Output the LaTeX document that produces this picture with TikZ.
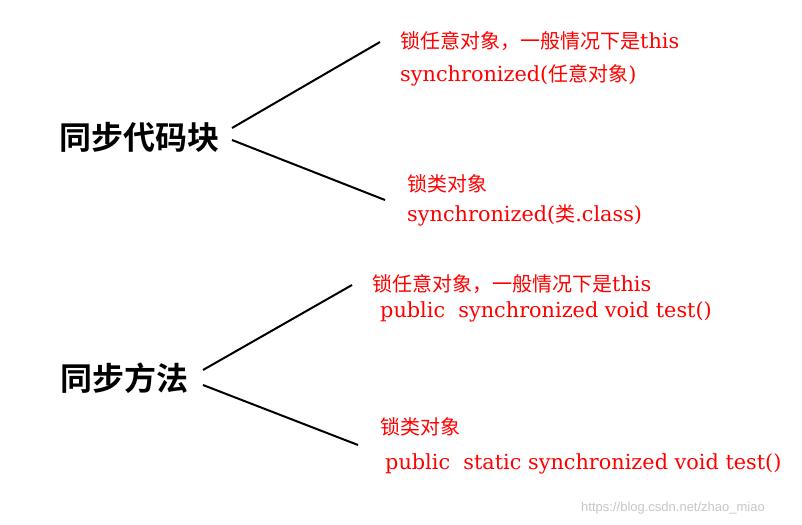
\documentclass[tikz,border=0pt]{standalone}
\usepackage{fontspec}
\setmainfont{DejaVu Serif}
\newfontfamily\cjkx{Noto Sans CJK SC}
\newcommand{\cjk}{\cjkx\fontsize{20}{24}\selectfont}
\newfontfamily\cjkb{Noto Sans CJK SC Bold}
\newfontfamily\wmfont{Liberation Sans}
\begin{document}
\begin{tikzpicture}[x=1pt,y=-1pt,
  ln/.style={line width=2pt,black},
  rt/.style={anchor=west,inner sep=0pt,text=red,font=\fontsize{20.8}{24}\selectfont},
  bt/.style={inner sep=0pt,font=\cjkb\fontsize{32}{36}\selectfont},
  wm/.style={anchor=east,inner sep=0pt,text=gray!45,font=\wmfont\fontsize{13}{15}\selectfont}]
\useasboundingbox (0,0) rectangle (802,524);
\node[bt] (a) at (139,137) {同步代码块};
\node[bt] (b) at (124,378) {同步方法};
\coordinate (a1) at (232,128); \coordinate (a2) at (232,140);
\coordinate (b1) at (203,370); \coordinate (b2) at (203,385);
\coordinate (e1) at (380,42); \coordinate (e2) at (385,200);
\coordinate (e3) at (352,285); \coordinate (e4) at (358,445);
\draw[ln] (a1)--(e1); \draw[ln] (a2)--(e2);
\draw[ln] (b1)--(e3); \draw[ln] (b2)--(e4);
\node[rt] (t1) at (400,41) {{\cjk 锁任意对象，一般情况下是}this};
\node[rt] (t2) at (400,75) {synchronized({\cjk 任意对象})};
\node[rt] (t3) at (407,184) {{\cjk 锁类对象}};
\node[rt] (t4) at (407,215) {synchronized({\cjk 类}.class)};
\node[rt] (t5) at (372,284) {{\cjk 锁任意对象，一般情况下是}this};
\node[rt] (t6) at (380,312) {public\ \ synchronized void test()};
\node[rt] (t7) at (380,427) {{\cjk 锁类对象}};
\node[rt] (t8) at (385,464) {public\ \ static synchronized void test()};
\node[wm] (w) at (765,508) {https://blog.csdn.net/zhao\_miao};
\end{tikzpicture}
\end{document}
